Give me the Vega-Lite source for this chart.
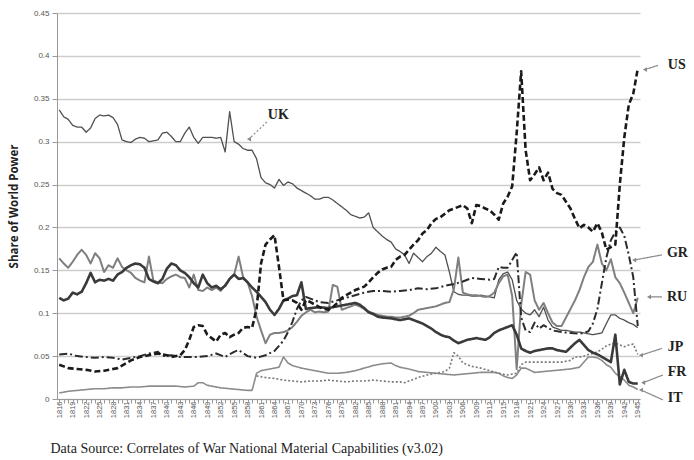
{
 "$schema": "https://vega.github.io/schema/vega-lite/v6.json",
 "width": 583, "height": 386,
 "autosize": {"type": "none"},
 "padding": {"left": 57, "top": 13, "right": 54, "bottom": 61},
 "config": {"view": {"stroke": null}},
 "resolve": {"axis": {"x": "independent"}},
 "datasets": {
  "series": [
{"c":"UK","t":1816,"v":0.337},{"c":"UK","t":1817,"v":0.329},{"c":"UK","t":1818,"v":0.326},{"c":"UK","t":1819,"v":0.319},{"c":"UK","t":1820,"v":0.317},{"c":"UK","t":1821,"v":0.317},{"c":"UK","t":1822,"v":0.311},{"c":"UK","t":1823,"v":0.316},{"c":"UK","t":1824,"v":0.327},{"c":"UK","t":1825,"v":0.331},{"c":"UK","t":1826,"v":0.330},{"c":"UK","t":1827,"v":0.331},{"c":"UK","t":1828,"v":0.328},{"c":"UK","t":1829,"v":0.320},{"c":"UK","t":1830,"v":0.302},{"c":"UK","t":1831,"v":0.300},{"c":"UK","t":1832,"v":0.299},{"c":"UK","t":1833,"v":0.303},{"c":"UK","t":1834,"v":0.305},{"c":"UK","t":1835,"v":0.304},{"c":"UK","t":1836,"v":0.300},{"c":"UK","t":1837,"v":0.301},{"c":"UK","t":1838,"v":0.302},{"c":"UK","t":1839,"v":0.310},{"c":"UK","t":1840,"v":0.311},{"c":"UK","t":1841,"v":0.306},{"c":"UK","t":1842,"v":0.300},{"c":"UK","t":1843,"v":0.300},{"c":"UK","t":1844,"v":0.310},{"c":"UK","t":1845,"v":0.317},{"c":"UK","t":1846,"v":0.305},{"c":"UK","t":1847,"v":0.298},{"c":"UK","t":1848,"v":0.305},{"c":"UK","t":1849,"v":0.305},{"c":"UK","t":1850,"v":0.305},{"c":"UK","t":1851,"v":0.304},{"c":"UK","t":1852,"v":0.305},{"c":"UK","t":1853,"v":0.288},{"c":"UK","t":1854,"v":0.335},{"c":"UK","t":1855,"v":0.300},{"c":"UK","t":1856,"v":0.297},{"c":"UK","t":1857,"v":0.292},{"c":"UK","t":1858,"v":0.290},{"c":"UK","t":1859,"v":0.290},{"c":"UK","t":1860,"v":0.280},{"c":"UK","t":1861,"v":0.258},{"c":"UK","t":1862,"v":0.252},{"c":"UK","t":1863,"v":0.250},{"c":"UK","t":1864,"v":0.246},{"c":"UK","t":1865,"v":0.256},{"c":"UK","t":1866,"v":0.249},{"c":"UK","t":1867,"v":0.253},{"c":"UK","t":1868,"v":0.251},{"c":"UK","t":1869,"v":0.246},{"c":"UK","t":1870,"v":0.243},{"c":"UK","t":1871,"v":0.240},{"c":"UK","t":1872,"v":0.237},{"c":"UK","t":1873,"v":0.233},{"c":"UK","t":1874,"v":0.233},{"c":"UK","t":1875,"v":0.235},{"c":"UK","t":1876,"v":0.235},{"c":"UK","t":1877,"v":0.232},{"c":"UK","t":1878,"v":0.228},{"c":"UK","t":1879,"v":0.224},{"c":"UK","t":1880,"v":0.220},{"c":"UK","t":1881,"v":0.215},{"c":"UK","t":1882,"v":0.213},{"c":"UK","t":1883,"v":0.211},{"c":"UK","t":1884,"v":0.212},{"c":"UK","t":1885,"v":0.217},{"c":"UK","t":1886,"v":0.200},{"c":"UK","t":1887,"v":0.195},{"c":"UK","t":1888,"v":0.190},{"c":"UK","t":1889,"v":0.186},{"c":"UK","t":1890,"v":0.183},{"c":"UK","t":1891,"v":0.175},{"c":"UK","t":1892,"v":0.172},{"c":"UK","t":1893,"v":0.168},{"c":"UK","t":1894,"v":0.158},{"c":"UK","t":1895,"v":0.170},{"c":"UK","t":1896,"v":0.165},{"c":"UK","t":1897,"v":0.160},{"c":"UK","t":1898,"v":0.166},{"c":"UK","t":1899,"v":0.170},{"c":"UK","t":1900,"v":0.177},{"c":"UK","t":1901,"v":0.172},{"c":"UK","t":1902,"v":0.168},{"c":"UK","t":1903,"v":0.148},{"c":"UK","t":1904,"v":0.125},{"c":"UK","t":1905,"v":0.122},{"c":"UK","t":1906,"v":0.121},{"c":"UK","t":1907,"v":0.121},{"c":"UK","t":1908,"v":0.120},{"c":"UK","t":1909,"v":0.120},{"c":"UK","t":1910,"v":0.121},{"c":"UK","t":1911,"v":0.120},{"c":"UK","t":1912,"v":0.119},{"c":"UK","t":1913,"v":0.118},{"c":"UK","t":1914,"v":0.139},{"c":"UK","t":1915,"v":0.146},{"c":"UK","t":1916,"v":0.148},{"c":"UK","t":1917,"v":0.139},{"c":"UK","t":1918,"v":0.115},{"c":"UK","t":1919,"v":0.105},{"c":"UK","t":1920,"v":0.100},{"c":"UK","t":1921,"v":0.098},{"c":"UK","t":1922,"v":0.104},{"c":"UK","t":1923,"v":0.096},{"c":"UK","t":1924,"v":0.107},{"c":"UK","t":1925,"v":0.092},{"c":"UK","t":1926,"v":0.084},{"c":"UK","t":1927,"v":0.082},{"c":"UK","t":1928,"v":0.080},{"c":"UK","t":1929,"v":0.080},{"c":"UK","t":1930,"v":0.079},{"c":"UK","t":1931,"v":0.078},{"c":"UK","t":1932,"v":0.078},{"c":"UK","t":1933,"v":0.077},{"c":"UK","t":1934,"v":0.076},{"c":"UK","t":1935,"v":0.075},{"c":"UK","t":1936,"v":0.076},{"c":"UK","t":1937,"v":0.077},{"c":"UK","t":1938,"v":0.088},{"c":"UK","t":1939,"v":0.098},{"c":"UK","t":1940,"v":0.098},{"c":"UK","t":1941,"v":0.094},{"c":"UK","t":1942,"v":0.092},{"c":"UK","t":1943,"v":0.089},{"c":"UK","t":1944,"v":0.087},{"c":"UK","t":1945,"v":0.083},
{"c":"IT","t":1816,"v":0.007},{"c":"IT","t":1818,"v":0.009},{"c":"IT","t":1820,"v":0.010},{"c":"IT","t":1822,"v":0.011},{"c":"IT","t":1824,"v":0.012},{"c":"IT","t":1826,"v":0.012},{"c":"IT","t":1828,"v":0.013},{"c":"IT","t":1830,"v":0.013},{"c":"IT","t":1832,"v":0.014},{"c":"IT","t":1834,"v":0.014},{"c":"IT","t":1836,"v":0.015},{"c":"IT","t":1838,"v":0.015},{"c":"IT","t":1840,"v":0.015},{"c":"IT","t":1842,"v":0.015},{"c":"IT","t":1844,"v":0.014},{"c":"IT","t":1846,"v":0.015},{"c":"IT","t":1847,"v":0.019},{"c":"IT","t":1848,"v":0.019},{"c":"IT","t":1849,"v":0.016},{"c":"IT","t":1850,"v":0.015},{"c":"IT","t":1852,"v":0.013},{"c":"IT","t":1854,"v":0.012},{"c":"IT","t":1856,"v":0.011},{"c":"IT","t":1858,"v":0.010},{"c":"IT","t":1859,"v":0.010},{"c":"IT","t":1860,"v":0.030},{"c":"IT","t":1861,"v":0.033},{"c":"IT","t":1862,"v":0.034},{"c":"IT","t":1863,"v":0.035},{"c":"IT","t":1864,"v":0.036},{"c":"IT","t":1865,"v":0.037},{"c":"IT","t":1866,"v":0.049},{"c":"IT","t":1867,"v":0.042},{"c":"IT","t":1868,"v":0.039},{"c":"IT","t":1870,"v":0.036},{"c":"IT","t":1872,"v":0.034},{"c":"IT","t":1874,"v":0.032},{"c":"IT","t":1876,"v":0.030},{"c":"IT","t":1878,"v":0.030},{"c":"IT","t":1880,"v":0.031},{"c":"IT","t":1882,"v":0.033},{"c":"IT","t":1884,"v":0.036},{"c":"IT","t":1886,"v":0.039},{"c":"IT","t":1888,"v":0.041},{"c":"IT","t":1890,"v":0.042},{"c":"IT","t":1891,"v":0.039},{"c":"IT","t":1892,"v":0.037},{"c":"IT","t":1894,"v":0.035},{"c":"IT","t":1896,"v":0.032},{"c":"IT","t":1898,"v":0.031},{"c":"IT","t":1900,"v":0.030},{"c":"IT","t":1902,"v":0.029},{"c":"IT","t":1904,"v":0.028},{"c":"IT","t":1906,"v":0.029},{"c":"IT","t":1908,"v":0.030},{"c":"IT","t":1910,"v":0.031},{"c":"IT","t":1912,"v":0.031},{"c":"IT","t":1913,"v":0.031},{"c":"IT","t":1914,"v":0.030},{"c":"IT","t":1915,"v":0.027},{"c":"IT","t":1916,"v":0.025},{"c":"IT","t":1917,"v":0.024},{"c":"IT","t":1918,"v":0.028},{"c":"IT","t":1919,"v":0.036},{"c":"IT","t":1920,"v":0.036},{"c":"IT","t":1922,"v":0.031},{"c":"IT","t":1924,"v":0.032},{"c":"IT","t":1926,"v":0.033},{"c":"IT","t":1928,"v":0.034},{"c":"IT","t":1930,"v":0.035},{"c":"IT","t":1931,"v":0.036},{"c":"IT","t":1932,"v":0.037},{"c":"IT","t":1933,"v":0.043},{"c":"IT","t":1934,"v":0.049},{"c":"IT","t":1935,"v":0.049},{"c":"IT","t":1936,"v":0.048},{"c":"IT","t":1937,"v":0.045},{"c":"IT","t":1938,"v":0.040},{"c":"IT","t":1939,"v":0.037},{"c":"IT","t":1940,"v":0.030},{"c":"IT","t":1941,"v":0.026},{"c":"IT","t":1942,"v":0.022},{"c":"IT","t":1943,"v":0.016},{"c":"IT","t":1944,"v":0.014},{"c":"IT","t":1945,"v":0.011},
{"c":"JP","t":1860,"v":0.027},{"c":"JP","t":1862,"v":0.025},{"c":"JP","t":1864,"v":0.024},{"c":"JP","t":1866,"v":0.022},{"c":"JP","t":1868,"v":0.021},{"c":"JP","t":1870,"v":0.020},{"c":"JP","t":1872,"v":0.021},{"c":"JP","t":1874,"v":0.021},{"c":"JP","t":1876,"v":0.022},{"c":"JP","t":1878,"v":0.021},{"c":"JP","t":1880,"v":0.020},{"c":"JP","t":1882,"v":0.021},{"c":"JP","t":1884,"v":0.021},{"c":"JP","t":1886,"v":0.022},{"c":"JP","t":1888,"v":0.021},{"c":"JP","t":1890,"v":0.020},{"c":"JP","t":1892,"v":0.020},{"c":"JP","t":1893,"v":0.019},{"c":"JP","t":1894,"v":0.021},{"c":"JP","t":1896,"v":0.025},{"c":"JP","t":1898,"v":0.028},{"c":"JP","t":1900,"v":0.030},{"c":"JP","t":1902,"v":0.032},{"c":"JP","t":1903,"v":0.036},{"c":"JP","t":1904,"v":0.054},{"c":"JP","t":1905,"v":0.050},{"c":"JP","t":1906,"v":0.042},{"c":"JP","t":1907,"v":0.040},{"c":"JP","t":1908,"v":0.038},{"c":"JP","t":1910,"v":0.036},{"c":"JP","t":1912,"v":0.033},{"c":"JP","t":1914,"v":0.030},{"c":"JP","t":1916,"v":0.028},{"c":"JP","t":1918,"v":0.030},{"c":"JP","t":1919,"v":0.040},{"c":"JP","t":1920,"v":0.043},{"c":"JP","t":1922,"v":0.043},{"c":"JP","t":1924,"v":0.043},{"c":"JP","t":1926,"v":0.043},{"c":"JP","t":1928,"v":0.043},{"c":"JP","t":1930,"v":0.045},{"c":"JP","t":1931,"v":0.049},{"c":"JP","t":1932,"v":0.049},{"c":"JP","t":1933,"v":0.050},{"c":"JP","t":1934,"v":0.052},{"c":"JP","t":1935,"v":0.053},{"c":"JP","t":1936,"v":0.055},{"c":"JP","t":1937,"v":0.058},{"c":"JP","t":1938,"v":0.062},{"c":"JP","t":1939,"v":0.064},{"c":"JP","t":1940,"v":0.065},{"c":"JP","t":1941,"v":0.063},{"c":"JP","t":1942,"v":0.061},{"c":"JP","t":1943,"v":0.063},{"c":"JP","t":1944,"v":0.064},{"c":"JP","t":1945,"v":0.052},
{"c":"RU","t":1816,"v":0.164},{"c":"RU","t":1817,"v":0.158},{"c":"RU","t":1818,"v":0.153},{"c":"RU","t":1819,"v":0.160},{"c":"RU","t":1820,"v":0.168},{"c":"RU","t":1821,"v":0.174},{"c":"RU","t":1822,"v":0.168},{"c":"RU","t":1823,"v":0.158},{"c":"RU","t":1824,"v":0.170},{"c":"RU","t":1825,"v":0.164},{"c":"RU","t":1826,"v":0.148},{"c":"RU","t":1827,"v":0.156},{"c":"RU","t":1828,"v":0.153},{"c":"RU","t":1829,"v":0.164},{"c":"RU","t":1830,"v":0.154},{"c":"RU","t":1831,"v":0.150},{"c":"RU","t":1832,"v":0.147},{"c":"RU","t":1833,"v":0.141},{"c":"RU","t":1834,"v":0.138},{"c":"RU","t":1835,"v":0.136},{"c":"RU","t":1836,"v":0.166},{"c":"RU","t":1837,"v":0.138},{"c":"RU","t":1838,"v":0.136},{"c":"RU","t":1839,"v":0.135},{"c":"RU","t":1840,"v":0.140},{"c":"RU","t":1841,"v":0.143},{"c":"RU","t":1842,"v":0.145},{"c":"RU","t":1843,"v":0.142},{"c":"RU","t":1844,"v":0.141},{"c":"RU","t":1845,"v":0.130},{"c":"RU","t":1846,"v":0.145},{"c":"RU","t":1847,"v":0.127},{"c":"RU","t":1848,"v":0.126},{"c":"RU","t":1849,"v":0.130},{"c":"RU","t":1850,"v":0.127},{"c":"RU","t":1851,"v":0.130},{"c":"RU","t":1852,"v":0.126},{"c":"RU","t":1853,"v":0.133},{"c":"RU","t":1854,"v":0.140},{"c":"RU","t":1855,"v":0.145},{"c":"RU","t":1856,"v":0.166},{"c":"RU","t":1857,"v":0.142},{"c":"RU","t":1858,"v":0.136},{"c":"RU","t":1859,"v":0.120},{"c":"RU","t":1860,"v":0.096},{"c":"RU","t":1861,"v":0.080},{"c":"RU","t":1862,"v":0.065},{"c":"RU","t":1863,"v":0.075},{"c":"RU","t":1864,"v":0.077},{"c":"RU","t":1865,"v":0.077},{"c":"RU","t":1866,"v":0.078},{"c":"RU","t":1867,"v":0.080},{"c":"RU","t":1868,"v":0.084},{"c":"RU","t":1869,"v":0.090},{"c":"RU","t":1870,"v":0.097},{"c":"RU","t":1871,"v":0.101},{"c":"RU","t":1872,"v":0.104},{"c":"RU","t":1873,"v":0.101},{"c":"RU","t":1874,"v":0.102},{"c":"RU","t":1875,"v":0.101},{"c":"RU","t":1876,"v":0.102},{"c":"RU","t":1877,"v":0.133},{"c":"RU","t":1878,"v":0.131},{"c":"RU","t":1879,"v":0.104},{"c":"RU","t":1880,"v":0.106},{"c":"RU","t":1881,"v":0.108},{"c":"RU","t":1882,"v":0.110},{"c":"RU","t":1883,"v":0.108},{"c":"RU","t":1884,"v":0.105},{"c":"RU","t":1885,"v":0.102},{"c":"RU","t":1886,"v":0.100},{"c":"RU","t":1887,"v":0.098},{"c":"RU","t":1888,"v":0.097},{"c":"RU","t":1889,"v":0.096},{"c":"RU","t":1890,"v":0.096},{"c":"RU","t":1891,"v":0.095},{"c":"RU","t":1892,"v":0.095},{"c":"RU","t":1893,"v":0.096},{"c":"RU","t":1894,"v":0.097},{"c":"RU","t":1895,"v":0.100},{"c":"RU","t":1896,"v":0.104},{"c":"RU","t":1897,"v":0.105},{"c":"RU","t":1898,"v":0.106},{"c":"RU","t":1899,"v":0.107},{"c":"RU","t":1900,"v":0.108},{"c":"RU","t":1901,"v":0.110},{"c":"RU","t":1902,"v":0.112},{"c":"RU","t":1903,"v":0.113},{"c":"RU","t":1904,"v":0.128},{"c":"RU","t":1905,"v":0.165},{"c":"RU","t":1906,"v":0.124},{"c":"RU","t":1907,"v":0.122},{"c":"RU","t":1908,"v":0.121},{"c":"RU","t":1909,"v":0.121},{"c":"RU","t":1910,"v":0.120},{"c":"RU","t":1911,"v":0.119},{"c":"RU","t":1912,"v":0.120},{"c":"RU","t":1913,"v":0.124},{"c":"RU","t":1914,"v":0.135},{"c":"RU","t":1915,"v":0.143},{"c":"RU","t":1916,"v":0.145},{"c":"RU","t":1917,"v":0.120},{"c":"RU","t":1918,"v":0.035},{"c":"RU","t":1919,"v":0.110},{"c":"RU","t":1920,"v":0.148},{"c":"RU","t":1921,"v":0.145},{"c":"RU","t":1922,"v":0.115},{"c":"RU","t":1923,"v":0.104},{"c":"RU","t":1924,"v":0.112},{"c":"RU","t":1925,"v":0.100},{"c":"RU","t":1926,"v":0.089},{"c":"RU","t":1927,"v":0.085},{"c":"RU","t":1928,"v":0.085},{"c":"RU","t":1929,"v":0.095},{"c":"RU","t":1930,"v":0.105},{"c":"RU","t":1931,"v":0.115},{"c":"RU","t":1932,"v":0.127},{"c":"RU","t":1933,"v":0.142},{"c":"RU","t":1934,"v":0.154},{"c":"RU","t":1935,"v":0.160},{"c":"RU","t":1936,"v":0.180},{"c":"RU","t":1937,"v":0.158},{"c":"RU","t":1938,"v":0.150},{"c":"RU","t":1939,"v":0.163},{"c":"RU","t":1940,"v":0.142},{"c":"RU","t":1941,"v":0.135},{"c":"RU","t":1942,"v":0.124},{"c":"RU","t":1943,"v":0.112},{"c":"RU","t":1944,"v":0.100},{"c":"RU","t":1945,"v":0.118},
{"c":"GR","t":1816,"v":0.052},{"c":"GR","t":1818,"v":0.053},{"c":"GR","t":1820,"v":0.050},{"c":"GR","t":1822,"v":0.049},{"c":"GR","t":1824,"v":0.048},{"c":"GR","t":1826,"v":0.049},{"c":"GR","t":1828,"v":0.048},{"c":"GR","t":1830,"v":0.046},{"c":"GR","t":1832,"v":0.048},{"c":"GR","t":1834,"v":0.050},{"c":"GR","t":1836,"v":0.053},{"c":"GR","t":1838,"v":0.055},{"c":"GR","t":1839,"v":0.050},{"c":"GR","t":1841,"v":0.051},{"c":"GR","t":1843,"v":0.049},{"c":"GR","t":1845,"v":0.049},{"c":"GR","t":1847,"v":0.049},{"c":"GR","t":1849,"v":0.050},{"c":"GR","t":1851,"v":0.053},{"c":"GR","t":1853,"v":0.049},{"c":"GR","t":1855,"v":0.055},{"c":"GR","t":1856,"v":0.057},{"c":"GR","t":1858,"v":0.050},{"c":"GR","t":1860,"v":0.048},{"c":"GR","t":1862,"v":0.051},{"c":"GR","t":1864,"v":0.056},{"c":"GR","t":1865,"v":0.062},{"c":"GR","t":1866,"v":0.068},{"c":"GR","t":1867,"v":0.078},{"c":"GR","t":1868,"v":0.090},{"c":"GR","t":1869,"v":0.105},{"c":"GR","t":1870,"v":0.115},{"c":"GR","t":1871,"v":0.119},{"c":"GR","t":1872,"v":0.117},{"c":"GR","t":1874,"v":0.113},{"c":"GR","t":1876,"v":0.112},{"c":"GR","t":1878,"v":0.115},{"c":"GR","t":1880,"v":0.118},{"c":"GR","t":1882,"v":0.121},{"c":"GR","t":1884,"v":0.124},{"c":"GR","t":1886,"v":0.126},{"c":"GR","t":1888,"v":0.126},{"c":"GR","t":1890,"v":0.125},{"c":"GR","t":1892,"v":0.126},{"c":"GR","t":1894,"v":0.127},{"c":"GR","t":1896,"v":0.129},{"c":"GR","t":1898,"v":0.128},{"c":"GR","t":1900,"v":0.129},{"c":"GR","t":1902,"v":0.132},{"c":"GR","t":1904,"v":0.134},{"c":"GR","t":1906,"v":0.137},{"c":"GR","t":1908,"v":0.141},{"c":"GR","t":1910,"v":0.140},{"c":"GR","t":1912,"v":0.139},{"c":"GR","t":1913,"v":0.140},{"c":"GR","t":1914,"v":0.154},{"c":"GR","t":1915,"v":0.153},{"c":"GR","t":1916,"v":0.153},{"c":"GR","t":1917,"v":0.162},{"c":"GR","t":1918,"v":0.171},{"c":"GR","t":1919,"v":0.095},{"c":"GR","t":1920,"v":0.080},{"c":"GR","t":1921,"v":0.078},{"c":"GR","t":1922,"v":0.089},{"c":"GR","t":1923,"v":0.082},{"c":"GR","t":1924,"v":0.086},{"c":"GR","t":1925,"v":0.083},{"c":"GR","t":1926,"v":0.080},{"c":"GR","t":1928,"v":0.078},{"c":"GR","t":1930,"v":0.077},{"c":"GR","t":1932,"v":0.076},{"c":"GR","t":1933,"v":0.077},{"c":"GR","t":1934,"v":0.079},{"c":"GR","t":1935,"v":0.088},{"c":"GR","t":1936,"v":0.105},{"c":"GR","t":1937,"v":0.135},{"c":"GR","t":1938,"v":0.165},{"c":"GR","t":1939,"v":0.185},{"c":"GR","t":1940,"v":0.195},{"c":"GR","t":1941,"v":0.200},{"c":"GR","t":1942,"v":0.190},{"c":"GR","t":1943,"v":0.168},{"c":"GR","t":1944,"v":0.142},{"c":"GR","t":1945,"v":0.085},
{"c":"FR","t":1816,"v":0.118},{"c":"FR","t":1817,"v":0.115},{"c":"FR","t":1818,"v":0.117},{"c":"FR","t":1819,"v":0.124},{"c":"FR","t":1820,"v":0.122},{"c":"FR","t":1821,"v":0.125},{"c":"FR","t":1822,"v":0.135},{"c":"FR","t":1823,"v":0.147},{"c":"FR","t":1824,"v":0.136},{"c":"FR","t":1825,"v":0.139},{"c":"FR","t":1826,"v":0.138},{"c":"FR","t":1827,"v":0.140},{"c":"FR","t":1828,"v":0.138},{"c":"FR","t":1829,"v":0.145},{"c":"FR","t":1830,"v":0.148},{"c":"FR","t":1831,"v":0.153},{"c":"FR","t":1832,"v":0.156},{"c":"FR","t":1833,"v":0.158},{"c":"FR","t":1834,"v":0.157},{"c":"FR","t":1835,"v":0.153},{"c":"FR","t":1836,"v":0.140},{"c":"FR","t":1837,"v":0.137},{"c":"FR","t":1838,"v":0.135},{"c":"FR","t":1839,"v":0.140},{"c":"FR","t":1840,"v":0.152},{"c":"FR","t":1841,"v":0.158},{"c":"FR","t":1842,"v":0.156},{"c":"FR","t":1843,"v":0.150},{"c":"FR","t":1844,"v":0.147},{"c":"FR","t":1845,"v":0.142},{"c":"FR","t":1846,"v":0.135},{"c":"FR","t":1847,"v":0.130},{"c":"FR","t":1848,"v":0.145},{"c":"FR","t":1849,"v":0.135},{"c":"FR","t":1850,"v":0.130},{"c":"FR","t":1851,"v":0.132},{"c":"FR","t":1852,"v":0.128},{"c":"FR","t":1853,"v":0.132},{"c":"FR","t":1854,"v":0.140},{"c":"FR","t":1855,"v":0.145},{"c":"FR","t":1856,"v":0.140},{"c":"FR","t":1857,"v":0.141},{"c":"FR","t":1858,"v":0.136},{"c":"FR","t":1859,"v":0.130},{"c":"FR","t":1860,"v":0.125},{"c":"FR","t":1861,"v":0.119},{"c":"FR","t":1862,"v":0.113},{"c":"FR","t":1863,"v":0.104},{"c":"FR","t":1864,"v":0.098},{"c":"FR","t":1865,"v":0.105},{"c":"FR","t":1866,"v":0.115},{"c":"FR","t":1867,"v":0.117},{"c":"FR","t":1868,"v":0.120},{"c":"FR","t":1869,"v":0.121},{"c":"FR","t":1870,"v":0.136},{"c":"FR","t":1871,"v":0.105},{"c":"FR","t":1872,"v":0.106},{"c":"FR","t":1874,"v":0.107},{"c":"FR","t":1876,"v":0.106},{"c":"FR","t":1878,"v":0.108},{"c":"FR","t":1880,"v":0.110},{"c":"FR","t":1882,"v":0.112},{"c":"FR","t":1883,"v":0.110},{"c":"FR","t":1884,"v":0.106},{"c":"FR","t":1885,"v":0.101},{"c":"FR","t":1886,"v":0.099},{"c":"FR","t":1887,"v":0.096},{"c":"FR","t":1888,"v":0.095},{"c":"FR","t":1890,"v":0.094},{"c":"FR","t":1892,"v":0.092},{"c":"FR","t":1894,"v":0.094},{"c":"FR","t":1895,"v":0.092},{"c":"FR","t":1896,"v":0.090},{"c":"FR","t":1897,"v":0.088},{"c":"FR","t":1898,"v":0.085},{"c":"FR","t":1899,"v":0.082},{"c":"FR","t":1900,"v":0.078},{"c":"FR","t":1901,"v":0.075},{"c":"FR","t":1902,"v":0.073},{"c":"FR","t":1903,"v":0.072},{"c":"FR","t":1904,"v":0.068},{"c":"FR","t":1905,"v":0.065},{"c":"FR","t":1906,"v":0.067},{"c":"FR","t":1907,"v":0.069},{"c":"FR","t":1908,"v":0.070},{"c":"FR","t":1909,"v":0.071},{"c":"FR","t":1910,"v":0.070},{"c":"FR","t":1911,"v":0.069},{"c":"FR","t":1912,"v":0.072},{"c":"FR","t":1913,"v":0.077},{"c":"FR","t":1914,"v":0.080},{"c":"FR","t":1915,"v":0.082},{"c":"FR","t":1916,"v":0.084},{"c":"FR","t":1917,"v":0.086},{"c":"FR","t":1918,"v":0.075},{"c":"FR","t":1919,"v":0.059},{"c":"FR","t":1920,"v":0.056},{"c":"FR","t":1921,"v":0.054},{"c":"FR","t":1922,"v":0.056},{"c":"FR","t":1923,"v":0.057},{"c":"FR","t":1924,"v":0.058},{"c":"FR","t":1925,"v":0.059},{"c":"FR","t":1926,"v":0.059},{"c":"FR","t":1927,"v":0.057},{"c":"FR","t":1928,"v":0.056},{"c":"FR","t":1929,"v":0.055},{"c":"FR","t":1930,"v":0.060},{"c":"FR","t":1931,"v":0.065},{"c":"FR","t":1932,"v":0.069},{"c":"FR","t":1933,"v":0.063},{"c":"FR","t":1934,"v":0.057},{"c":"FR","t":1935,"v":0.054},{"c":"FR","t":1936,"v":0.052},{"c":"FR","t":1937,"v":0.049},{"c":"FR","t":1938,"v":0.046},{"c":"FR","t":1939,"v":0.043},{"c":"FR","t":1940,"v":0.075},{"c":"FR","t":1941,"v":0.017},{"c":"FR","t":1942,"v":0.034},{"c":"FR","t":1943,"v":0.020},{"c":"FR","t":1944,"v":0.018},{"c":"FR","t":1945,"v":0.018},
{"c":"US","t":1816,"v":0.040},{"c":"US","t":1817,"v":0.038},{"c":"US","t":1818,"v":0.036},{"c":"US","t":1820,"v":0.035},{"c":"US","t":1822,"v":0.034},{"c":"US","t":1824,"v":0.032},{"c":"US","t":1826,"v":0.033},{"c":"US","t":1828,"v":0.035},{"c":"US","t":1829,"v":0.036},{"c":"US","t":1830,"v":0.039},{"c":"US","t":1831,"v":0.042},{"c":"US","t":1832,"v":0.045},{"c":"US","t":1833,"v":0.047},{"c":"US","t":1834,"v":0.049},{"c":"US","t":1836,"v":0.051},{"c":"US","t":1838,"v":0.053},{"c":"US","t":1840,"v":0.051},{"c":"US","t":1841,"v":0.049},{"c":"US","t":1843,"v":0.051},{"c":"US","t":1844,"v":0.057},{"c":"US","t":1845,"v":0.069},{"c":"US","t":1846,"v":0.084},{"c":"US","t":1847,"v":0.086},{"c":"US","t":1848,"v":0.085},{"c":"US","t":1849,"v":0.075},{"c":"US","t":1850,"v":0.071},{"c":"US","t":1851,"v":0.067},{"c":"US","t":1852,"v":0.075},{"c":"US","t":1853,"v":0.077},{"c":"US","t":1854,"v":0.072},{"c":"US","t":1855,"v":0.075},{"c":"US","t":1856,"v":0.077},{"c":"US","t":1857,"v":0.083},{"c":"US","t":1858,"v":0.084},{"c":"US","t":1859,"v":0.083},{"c":"US","t":1860,"v":0.105},{"c":"US","t":1861,"v":0.158},{"c":"US","t":1862,"v":0.180},{"c":"US","t":1863,"v":0.186},{"c":"US","t":1864,"v":0.191},{"c":"US","t":1865,"v":0.154},{"c":"US","t":1866,"v":0.115},{"c":"US","t":1867,"v":0.116},{"c":"US","t":1868,"v":0.115},{"c":"US","t":1869,"v":0.112},{"c":"US","t":1870,"v":0.104},{"c":"US","t":1871,"v":0.115},{"c":"US","t":1872,"v":0.113},{"c":"US","t":1873,"v":0.110},{"c":"US","t":1874,"v":0.107},{"c":"US","t":1875,"v":0.105},{"c":"US","t":1876,"v":0.104},{"c":"US","t":1877,"v":0.107},{"c":"US","t":1878,"v":0.112},{"c":"US","t":1879,"v":0.118},{"c":"US","t":1880,"v":0.121},{"c":"US","t":1881,"v":0.124},{"c":"US","t":1882,"v":0.127},{"c":"US","t":1883,"v":0.129},{"c":"US","t":1884,"v":0.131},{"c":"US","t":1885,"v":0.136},{"c":"US","t":1886,"v":0.142},{"c":"US","t":1887,"v":0.147},{"c":"US","t":1888,"v":0.151},{"c":"US","t":1889,"v":0.153},{"c":"US","t":1890,"v":0.154},{"c":"US","t":1891,"v":0.162},{"c":"US","t":1892,"v":0.166},{"c":"US","t":1893,"v":0.168},{"c":"US","t":1894,"v":0.174},{"c":"US","t":1895,"v":0.180},{"c":"US","t":1896,"v":0.185},{"c":"US","t":1897,"v":0.193},{"c":"US","t":1898,"v":0.197},{"c":"US","t":1899,"v":0.205},{"c":"US","t":1900,"v":0.210},{"c":"US","t":1901,"v":0.212},{"c":"US","t":1902,"v":0.216},{"c":"US","t":1903,"v":0.220},{"c":"US","t":1904,"v":0.222},{"c":"US","t":1905,"v":0.224},{"c":"US","t":1906,"v":0.226},{"c":"US","t":1907,"v":0.222},{"c":"US","t":1908,"v":0.205},{"c":"US","t":1909,"v":0.226},{"c":"US","t":1910,"v":0.225},{"c":"US","t":1911,"v":0.222},{"c":"US","t":1912,"v":0.220},{"c":"US","t":1913,"v":0.215},{"c":"US","t":1914,"v":0.209},{"c":"US","t":1915,"v":0.228},{"c":"US","t":1916,"v":0.236},{"c":"US","t":1917,"v":0.248},{"c":"US","t":1918,"v":0.310},{"c":"US","t":1919,"v":0.382},{"c":"US","t":1920,"v":0.290},{"c":"US","t":1921,"v":0.255},{"c":"US","t":1922,"v":0.262},{"c":"US","t":1923,"v":0.270},{"c":"US","t":1924,"v":0.255},{"c":"US","t":1925,"v":0.264},{"c":"US","t":1926,"v":0.245},{"c":"US","t":1927,"v":0.240},{"c":"US","t":1928,"v":0.238},{"c":"US","t":1929,"v":0.230},{"c":"US","t":1930,"v":0.222},{"c":"US","t":1931,"v":0.210},{"c":"US","t":1932,"v":0.199},{"c":"US","t":1933,"v":0.203},{"c":"US","t":1934,"v":0.200},{"c":"US","t":1935,"v":0.195},{"c":"US","t":1936,"v":0.205},{"c":"US","t":1937,"v":0.194},{"c":"US","t":1938,"v":0.174},{"c":"US","t":1939,"v":0.177},{"c":"US","t":1940,"v":0.180},{"c":"US","t":1941,"v":0.250},{"c":"US","t":1942,"v":0.305},{"c":"US","t":1943,"v":0.343},{"c":"US","t":1944,"v":0.356},{"c":"US","t":1945,"v":0.385}
  ],
  "arrows": [
   {"c":"US","a":1949.5,"b":0.389,"a2":1946.6,"b2":0.384},
   {"c":"GR","a":1950.4,"b":0.168,"a2":1944.2,"b2":0.162},
   {"c":"RU","a":1950.4,"b":0.119,"a2":1947.5,"b2":0.119},
   {"c":"JP","a":1950.4,"b":0.059,"a2":1945.7,"b2":0.051},
   {"c":"FR","a":1950.6,"b":0.028,"a2":1946.2,"b2":0.019},
   {"c":"IT","a":1950.6,"b":-0.001,"a2":1945.7,"b2":0.0105},
   {"c":"UK","a":1862.3,"b":0.323,"a2":1858.3,"b2":0.303}
  ],
  "labels": [
   {"c":"US","a":1951.7,"b":0.389},
   {"c":"GR","a":1951.5,"b":0.170},
   {"c":"RU","a":1951.5,"b":0.119},
   {"c":"JP","a":1951.7,"b":0.061},
   {"c":"FR","a":1951.7,"b":0.032},
   {"c":"IT","a":1951.7,"b":0.001},
   {"c":"UK","a":1862.5,"b":0.331}
  ]
 },
 "layer": [
  {
   "data": {"name": "series"},
   "mark": {"type": "line", "strokeJoin": "round"},
   "encoding": {
    "x": {"field": "t", "type": "quantitative",
     "scale": {"domain": [1815.5, 1945.5], "nice": false, "zero": false},
     "axis": {
      "orient": "bottom",
      "values": [1816,1819,1822,1825,1828,1831,1834,1837,1840,1843,1846,1849,1852,1855,1858,1861,1864,1867,1870,1873,1876,1879,1882,1885,1888,1891,1894,1897,1900,1903,1906,1909,1912,1915,1918,1921,1924,1927,1930,1933,1936,1939,1942,1945],
      "format": "d",
      "labelAngle": -90, "labelFontSize": 7.5, "labelFont": "Liberation Sans", "labelColor": "#555",
      "labelOverlap": false, "labelBound": false, "labelFlush": false, "labelPadding": 2,
      "ticks": false, "domainColor": "#999", "grid": false,
      "title": "Data Source: Correlates of War National Material Capabilities (v3.02)",
      "titleFont": "Liberation Serif", "titleFontSize": 14, "titleFontWeight": "normal", "titleColor": "#222",
      "titleAnchor": "start", "titleAlign": "left", "titleX": -7, "titleY": 53, "titleBaseline": "alphabetic"
     }
    },
    "y": {"field": "v", "type": "quantitative",
     "scale": {"domain": [0, 0.45], "nice": false},
     "axis": {
      "values": [0, 0.05, 0.1, 0.15, 0.2, 0.25, 0.3, 0.35, 0.4, 0.45],
      "format": ".2~f", "labelFontSize": 8, "labelFont": "Liberation Sans", "labelColor": "#555",
      "labelPadding": 3, "tickSize": 5, "tickColor": "#999", "domainColor": "#999",
      "grid": true, "gridColor": "#cdcdcd", "gridWidth": 1.6,
      "title": "Share of World Power", "titleFont": "Open Sans", "titleFontSize": 11.5,
      "titleFontWeight": "bold", "titleColor": "#222", "titlePadding": 14
     }
    },
    "color": {"field": "c", "type": "nominal", "legend": null,
     "scale": {"domain": ["UK","IT","JP","RU","GR","FR","US"], "range": ["#505050","#8c8c8c","#7a7a7a","#7f7f7f","#2b2b2b","#3a3a3a","#1a1a1a"]}},
    "strokeDash": {"field": "c", "type": "nominal", "legend": null,
     "scale": {"domain": ["UK","IT","JP","RU","GR","FR","US"], "range": [[1,0],[1,0],[2,2],[1,0],[8,3,2,3],[1,0],[6,3]]}},
    "strokeWidth": {"field": "c", "type": "nominal", "legend": null,
     "scale": {"type": "ordinal", "domain": ["UK","IT","JP","RU","GR","FR","US"], "range": [1.3,1.6,1.6,2,2,2.6,2.6]}},
    "order": {"field": "t", "type": "quantitative"}
   }
  },
  {
   "data": {"name": "arrows"},
   "mark": {"type": "rule", "color": "#8a8a8a", "strokeWidth": 1.2},
   "encoding": {
    "x": {"field": "a", "type": "quantitative", "scale": {"domain": [1815.5, 1945.5], "nice": false, "zero": false},
     "axis": {
      "orient": "bottom",
      "values": [1816,1817,1818,1819,1820,1821,1822,1823,1824,1825,1826,1827,1828,1829,1830,1831,1832,1833,1834,1835,1836,1837,1838,1839,1840,1841,1842,1843,1844,1845,1846,1847,1848,1849,1850,1851,1852,1853,1854,1855,1856,1857,1858,1859,1860,1861,1862,1863,1864,1865,1866,1867,1868,1869,1870,1871,1872,1873,1874,1875,1876,1877,1878,1879,1880,1881,1882,1883,1884,1885,1886,1887,1888,1889,1890,1891,1892,1893,1894,1895,1896,1897,1898,1899,1900,1901,1902,1903,1904,1905,1906,1907,1908,1909,1910,1911,1912,1913,1914,1915,1916,1917,1918,1919,1920,1921,1922,1923,1924,1925,1926,1927,1928,1929,1930,1931,1932,1933,1934,1935,1936,1937,1938,1939,1940,1941,1942,1943,1944,1945],
      "labels": false, "domain": false, "grid": false, "title": null,
      "ticks": true, "tickSize": 4, "tickColor": "#999"
     }},
    "y": {"field": "b", "type": "quantitative", "scale": {"domain": [0, 0.45], "nice": false}},
    "x2": {"field": "a2"},
    "y2": {"field": "b2"},
    "strokeDash": {"condition": {"test": "datum.c === 'UK'", "value": [2, 2]}, "value": [1, 0]}
   }
  },
  {
   "data": {"name": "arrows"},
   "mark": {"type": "point", "shape": "triangle-left", "filled": true, "size": 22, "color": "#8a8a8a", "opacity": 1},
   "encoding": {
    "x": {"field": "a2", "type": "quantitative", "scale": {"domain": [1815.5, 1945.5], "nice": false, "zero": false}, "axis": null},
    "y": {"field": "b2", "type": "quantitative", "scale": {"domain": [0, 0.45], "nice": false}}
   }
  },
  {
   "data": {"name": "labels"},
   "mark": {"type": "text", "align": "left", "baseline": "middle", "font": "Liberation Serif", "fontWeight": "bold", "fontSize": 14, "color": "#222"},
   "encoding": {
    "x": {"field": "a", "type": "quantitative", "scale": {"domain": [1815.5, 1945.5], "nice": false, "zero": false}, "axis": null},
    "y": {"field": "b", "type": "quantitative", "scale": {"domain": [0, 0.45], "nice": false}},
    "text": {"field": "c"}
   }
  }
 ]
}
